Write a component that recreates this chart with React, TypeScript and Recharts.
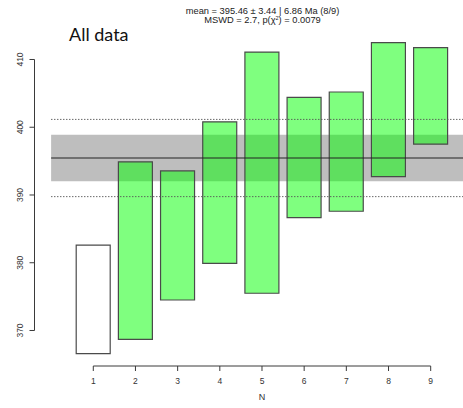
import React from 'react';
import {
  ComposedChart,
  Bar,
  Cell,
  XAxis,
  YAxis,
  ReferenceArea,
  ReferenceLine,
} from 'recharts';

// aliquot number and the 2-sigma age interval of each aliquot (Ma)
const aliquots = [1, 2, 3, 4, 5, 6, 7, 8, 9];
const lowerAges = [366.6, 368.7, 374.5, 379.9, 375.5, 386.65, 387.6, 392.7, 397.5];
const upperAges = [382.6, 394.9, 393.55, 400.8, 411.1, 404.4, 405.2, 412.5, 411.75];
// first aliquot was rejected from the weighted mean
const accepted = [false, true, true, true, true, true, true, true, true];

const meanAge = 395.46;
const meanErr = 3.44;
const dispersionBand = [389.76, 401.16];

const xTicks = [1, 2, 3, 4, 5, 6, 7, 8, 9];
const yTicks = [370, 380, 390, 400, 410];

const data = aliquots.map((n, i) => ({
  n,
  range: [lowerAges[i], upperAges[i]],
  accepted: accepted[i],
}));

const X_MIN = -0.394;
const X_MAX = 9.766;
const Y_MIN = 364.76;
const Y_MAX = 414;

const axisColor = '#3a3a3a';
const labelFont = '"Liberation Sans", Arial, sans-serif';

const YTick = (props: any) => {
  const { x, y, payload } = props;
  const bx = x - 4.5;
  return (
    <text
      x={bx}
      y={y}
      transform={`rotate(-90, ${bx}, ${y})`}
      textAnchor="middle"
      fontSize={8.5}
      fontFamily={labelFont}
      fill="#333"
    >
      {payload.value}
    </text>
  );
};

const App: React.FC = () => {
  return (
    <div style={{ position: 'absolute', left: 0, top: 0, width: 463, height: 408, background: '#fff' }}>
      <ComposedChart
        width={463}
        height={408}
        data={data}
        margin={{ top: 32.4, right: 0, left: 0, bottom: 0 }}
      >
        <XAxis
          type="number"
          dataKey="n"
          domain={[X_MIN, X_MAX]}
          ticks={xTicks}
          allowDataOverflow
          axisLine={false}
          tickLine={{ stroke: axisColor }}
          tickSize={5}
          tickMargin={7}
          height={42}
          tick={{ fontSize: 8.5, fill: '#333', fontFamily: labelFont }}
        />
        <YAxis
          type="number"
          domain={[Y_MIN, Y_MAX]}
          ticks={yTicks}
          allowDataOverflow
          axisLine={false}
          tickLine={{ stroke: axisColor }}
          tickSize={5}
          width={34.5}
          tick={<YTick />}
        />

        {/* weighted mean with its standard error band */}
        <ReferenceArea
          x1={0}
          x2={X_MAX}
          y1={meanAge - meanErr}
          y2={meanAge + meanErr}
          fill="#bebebe"
          fillOpacity={1}
          stroke="none"
        />
        <ReferenceLine
          segment={[{ x: 0, y: dispersionBand[1] }, { x: X_MAX, y: dispersionBand[1] }]}
          stroke="#555"
          strokeDasharray="1.3 1.7"
          ifOverflow="visible"
        />
        <ReferenceLine
          segment={[{ x: 0, y: dispersionBand[0] }, { x: X_MAX, y: dispersionBand[0] }]}
          stroke="#555"
          strokeDasharray="1.3 1.7"
          ifOverflow="visible"
        />
        <ReferenceLine
          segment={[{ x: 0, y: meanAge }, { x: X_MAX, y: meanAge }]}
          stroke="#222"
          strokeWidth={1}
          ifOverflow="visible"
        />

        {/* R-style detached axis lines */}
        <ReferenceLine
          segment={[{ x: X_MIN, y: yTicks[0] }, { x: X_MIN, y: yTicks[yTicks.length - 1] }]}
          stroke={axisColor}
          ifOverflow="visible"
        />
        <ReferenceLine
          segment={[{ x: xTicks[0], y: Y_MIN }, { x: xTicks[xTicks.length - 1], y: Y_MIN }]}
          stroke={axisColor}
          ifOverflow="visible"
        />

        <Bar dataKey="range" barSize={34} isAnimationActive={false} stroke="#4a4a4a" strokeWidth={1.2}>
          {data.map((d) => (
            <Cell
              key={d.n}
              fill={d.accepted ? '#00ff00' : '#ffffff'}
              fillOpacity={d.accepted ? 0.5 : 1}
            />
          ))}
        </Bar>
      </ComposedChart>

      <div
        style={{
          position: 'absolute',
          left: 0,
          width: 525,
          top: 7,
          textAlign: 'center',
          fontFamily: labelFont,
          fontSize: 9.3,
          color: '#222',
        }}
      >
        <div style={{ height: 9, lineHeight: '9px' }}>mean = 395.46 ± 3.44 | 6.86 Ma (8/9)</div>
        <div style={{ height: 9, lineHeight: '9px' }}>
          MSWD = 2.7, p(χ
          <span style={{ fontSize: 5.5, position: 'relative', top: -3 }}>2</span>) = 0.0079
        </div>
      </div>
      <div
        style={{
          position: 'absolute',
          left: 69,
          top: 23,
          fontFamily: 'Lato, "Open Sans", sans-serif',
          fontSize: 18,
          color: '#111',
        }}
      >
        All data
      </div>
      <div
        style={{
          position: 'absolute',
          left: 242,
          width: 40,
          top: 392,
          textAlign: 'center',
          fontFamily: labelFont,
          fontSize: 9,
          color: '#333',
        }}
      >
        N
      </div>
    </div>
  );
};

export default App;
